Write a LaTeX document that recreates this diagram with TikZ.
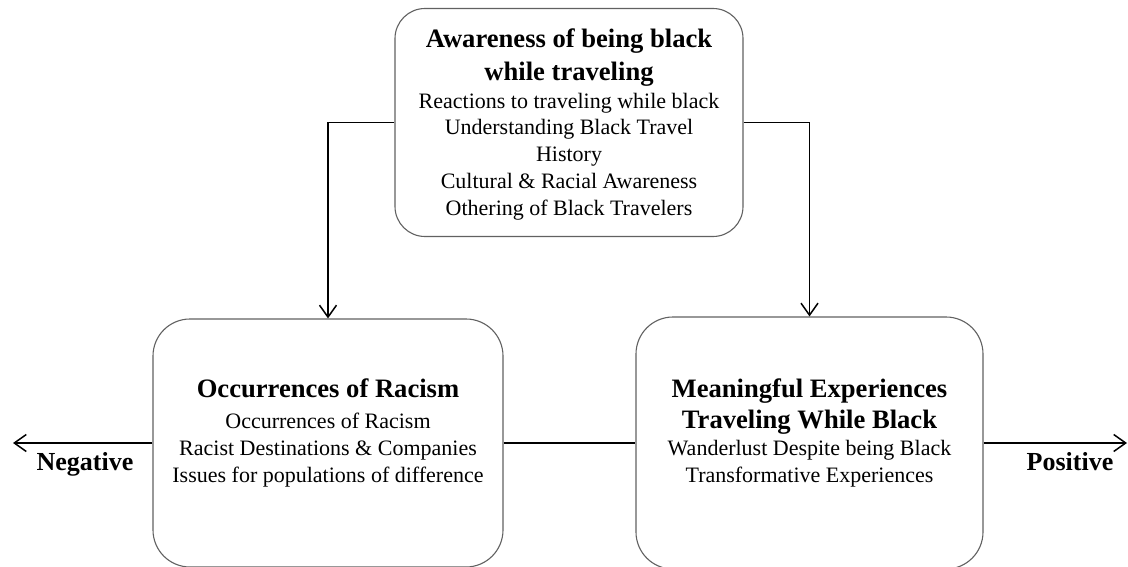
\documentclass[tikz,border=0pt]{standalone}
\usepackage{fontspec}
\setmainfont{Liberation Serif}
\usetikzlibrary{arrows.meta}
\begin{document}
\begin{tikzpicture}[x=1pt,y=-1pt,
  box/.style={draw=black!62, line width=1.1pt, rounded corners=#1, inner sep=0pt},
  txt/.style={align=center, inner sep=0pt, font=\fontsize{22}{26.7}\selectfont},
  conn/.style={draw=black, line width=1.5pt, -{Straight Barb[length=12pt,width=17pt,line width=1.5pt]}},
  lbl/.style={inner sep=0pt, font=\fontsize{26}{30}\selectfont\bfseries}]
\useasboundingbox (0,0) rectangle (1128,567);
\node[box=30pt, minimum width=348pt, minimum height=228pt] (tbox) at (569,122.5) {};
\node[box=37pt, minimum width=350pt, minimum height=248pt] (lbox) at (328,443) {};
\node[box=37pt, minimum width=347pt, minimum height=252pt] (rbox) at (809.5,443) {};
\newcommand{\ttlf}{\fontsize{26.6}{31}\selectfont\bfseries}
\node[txt] (ttxt) at (569,124.5) {{\ttlf Awareness of being black}\\[6pt]{\ttlf while traveling}\\[1pt]
  Reactions to traveling while black\\ Understanding Black Travel\\ History\\
  Cultural \& Racial Awareness\\ Othering of Black Travelers};
\node[txt] (ltxt) at (328,433) {{\ttlf Occurrences of Racism}\\[4pt]
  Occurrences of Racism\\ Racist Destinations \& Companies\\ Issues for populations of difference};
\node[txt] (rtxt) at (809.5,433) {{\ttlf Meaningful Experiences}\\[4pt]{\ttlf Traveling While Black}\\[1pt]
  Wanderlust Despite being Black\\ Transformative Experiences};
\node[lbl] (neg) at (85,464) {Negative};
\node[lbl] (pos) at (1070,462) {Positive};
\coordinate (lend) at (13,443);
\coordinate (rend) at (1127,443);
\draw[conn] (tbox.west) -| (lbox.north);
\draw[conn] (tbox.east) -| (rbox.north);
\draw[draw=black, line width=1.5pt] (lbox.east) -- (rbox.west);
\draw[conn] (lbox.west) -- (lend);
\draw[conn] (rbox.east) -- (rend);
\end{tikzpicture}
\end{document}
